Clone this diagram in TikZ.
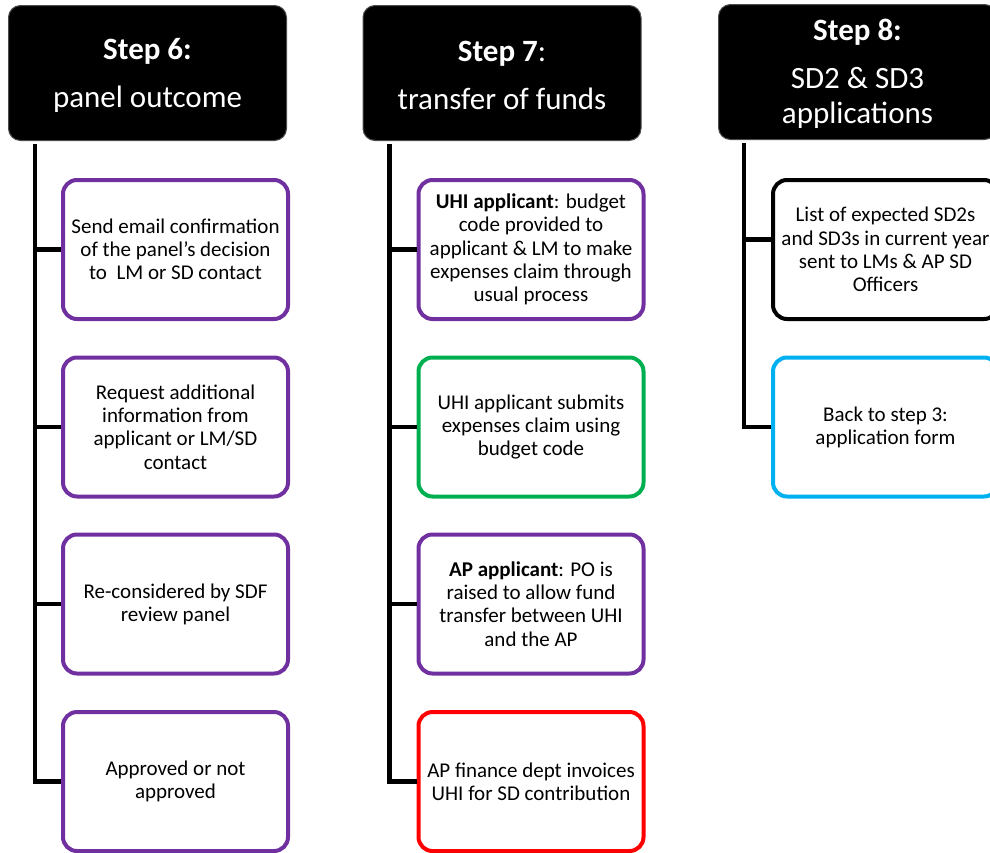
\documentclass[tikz,border=0pt]{standalone}
\usepackage{fontspec}
\setmainfont{Carlito}
\usetikzlibrary{calc}
\definecolor{cpurple}{HTML}{7030A0}
\definecolor{cgreen}{HTML}{00B050}
\definecolor{cred}{HTML}{FF0000}
\definecolor{cblue}{HTML}{00B0F0}
\begin{document}
\begin{tikzpicture}[x=1pt,y=-1pt,
  header/.style={draw=black!70, line width=1pt, fill=black, rounded corners=12pt, text=white,
    minimum width=278pt, minimum height=135pt, inner sep=0pt, align=center,
    font=\fontsize{31}{35}\selectfont},
  item/.style={draw=#1, line width=4pt, fill=white, rounded corners=14pt,
    minimum width=225pt, minimum height=139pt, inner sep=0pt, align=center,
    font=\fontsize{21}{23.2}\selectfont},
  conn/.style={line width=4.5pt, draw=black}
]
\useasboundingbox (0,0) rectangle (990,852);
\clip (0,0) rectangle (990,852);

% headers
\node[header] (h6) at (147.5,73) {{\fontsize{31}{30}\selectfont\bfseries\rule{0pt}{26pt}Step 6:}\\[13pt]panel outcome};
\node[header] (h7) at (502,73) {{\fontsize{31}{30}\selectfont\rule{0pt}{26pt}\textbf{Step 7}:}\\[13pt]transfer of funds};
\node[header] (h8) at (857.5,72) {{\fontsize{31}{30}\selectfont\bfseries\rule{0pt}{24pt}Step 8:}\\[13pt]SD2 \& SD3\\applications};

% column 1
\node[item=cpurple] (a1) at (175.5,249.5) {Send email confirmation\\of the panel’s decision\\to\ \ LM or SD contact};
\node[item=cpurple] (a2) at (175.5,427) {Request additional\\information from\\applicant or LM/SD\\contact};
\node[item=cpurple] (a3) at (175.5,604) {Re-considered by SDF\\review panel};
\node[item=cpurple] (a4) at (175.5,781.5) {Approved or not\\approved};

% column 2
\node[item=cpurple] (b1) at (531,249.5) {\textbf{UHI applicant}: budget\\code provided to\\applicant \& LM to make\\expenses claim through\\usual process};
\node[item=cgreen] (b2) at (531,427) {UHI applicant submits\\expenses claim using\\budget code};
\node[item=cpurple] (b3) at (531,604) {\textbf{AP applicant}: PO is\\raised to allow fund\\transfer between UHI\\and the AP};
\node[item=cred] (b4) at (531,781.5) {AP finance dept invoices\\UHI for SD contribution};

% column 3
\node[item=black] (c1) at (885.5,249.5) {List of expected SD2s\\and SD3s in current year\\sent to LMs \& AP SD\\Officers};
\node[item=cblue] (c2) at (885.5,427) {Back to step 3:\\application form};

% spines
\coordinate (s6) at ($(h6.south west)+(27,3)$);
\coordinate (s7) at ($(h7.south west)+(27,3)$);
\coordinate (s8) at ($(h8.south west)+(26,3)$);

\draw[conn] (s6) |- (a4.west);
\foreach \n in {a1,a2,a3} \draw[conn] (\n.west) -- (\n.west -| s6);
\draw[conn] (s7) |- (b4.west);
\foreach \n in {b1,b2,b3} \draw[conn] (\n.west) -- (\n.west -| s7);
\draw[conn] (s8) |- (c2.west);
\coordinate (c1w) at ($(c1.west)+(0,-10)$);
\draw[conn] (c1w) -- (c1w -| s8);
\end{tikzpicture}
\end{document}
